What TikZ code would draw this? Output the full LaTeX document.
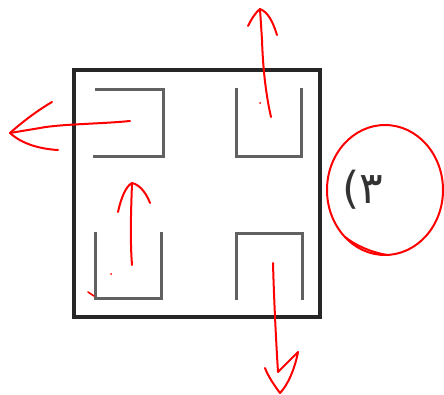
\documentclass[tikz,border=0pt]{standalone}
\usepackage{fontspec}
\newfontfamily\arabicfont[Script=Arabic]{DejaVu Sans}
\begin{document}
\begin{tikzpicture}[x=1pt,y=-1pt,
  frame/.style={draw=black!85, line width=4pt},
  bracket/.style={draw=black!62, line width=3pt},
  ink/.style={draw=red, line width=2pt, line cap=round, line join=round},
  inkdot/.style={fill=red}]
\useasboundingbox (0,0) rectangle (444,395);
% outer square
\draw[frame] (74,70) rectangle (320,317);
% brackets
\draw[bracket] (95,90) -- (163,90) -- (163,157) -- (93,157);
\draw[bracket] (236,88) -- (236,157) -- (301,157) -- (301,88);
\draw[bracket] (95,232) -- (95,298) -- (161,298) -- (161,232);
\draw[bracket] (236,300) -- (236,234) -- (302,234) -- (302,300);
% red arrows
\draw[ink] (130,121) .. controls (100,124) and (60,124) .. (40,128) -- (10,133);
\draw[ink] (52,102) .. controls (35,112) and (20,124) .. (10,133) .. controls (22,144) and (40,149) .. (58,150);
\draw[ink] (271,117) .. controls (266,95) and (263,70) .. (262,40) -- (260,9);
\draw[ink] (248,26) .. controls (252,18) and (256,12) .. (260,9) .. controls (268,12) and (273,22) .. (277,35);
\draw[ink] (132,265) .. controls (130,240) and (131,210) .. (132,184);
\draw[ink] (118,212) .. controls (121,198) and (126,186) .. (132,183) .. controls (141,185) and (147,195) .. (150,203);
\draw[ink] (273,263) .. controls (274,300) and (276,340) .. (278,372) -- (298,352) .. controls (295,368) and (288,385) .. (280,393) .. controls (274,385) and (268,376) .. (265,368);
% small marks
\fill[inkdot] (260,103) circle (1pt);
\fill[inkdot] (111,274) circle (1pt);
\draw[ink, line width=1.6pt] (88,292) -- (94,296);
% red circle
\draw[ink] (385,190) ellipse (58 and 65);
\draw[ink] (345,237) .. controls (355,245) and (370,252) .. (387,255);
% label
\node[text=black!80, inner sep=0pt, font=\arabicfont\fontsize{44}{46}\selectfont] (lbl) at (363,190) {٣)};
\end{tikzpicture}
\end{document}
